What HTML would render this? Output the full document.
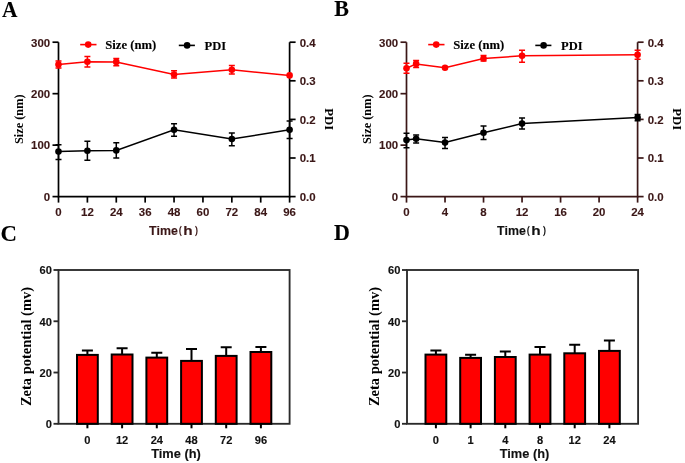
<!DOCTYPE html><html><head><meta charset="utf-8"><style>html,body{margin:0;padding:0;background:#fff;}svg{display:block;will-change:transform}</style></head><body>
<svg width="685" height="463" viewBox="0 0 685 463">
<rect width="685" height="463" fill="#fff"/>
<text transform="translate(1.9 17) scale(0.916 1)" font-family="&quot;Liberation Serif&quot;, serif" font-weight="bold" font-size="23.4" fill="#000" stroke="#000" stroke-width="0.12">A</text>
<text transform="translate(334.3 15.7) scale(0.97 1)" font-family="&quot;Liberation Serif&quot;, serif" font-weight="bold" font-size="22.7" fill="#000" stroke="#000" stroke-width="0.12">B</text>
<text transform="translate(0.4 240.5) scale(0.95 1)" font-family="&quot;Liberation Serif&quot;, serif" font-weight="bold" font-size="24" fill="#000" stroke="#000" stroke-width="0.12">C</text>
<text transform="translate(333.9 239.6) scale(0.913 1)" font-family="&quot;Liberation Serif&quot;, serif" font-weight="bold" font-size="24.1" fill="#000" stroke="#000" stroke-width="0.12">D</text>
<g stroke="#000" stroke-width="1.7" fill="none">
<path d="M58.5 42.2V196.6H289.6V42.2"/>
<path d="M52.5 196.6H58.5"/>
<path d="M52.5 145.13H58.5"/>
<path d="M52.5 93.67H58.5"/>
<path d="M52.5 42.2H58.5"/>
<path d="M289.6 196.6H295.6"/>
<path d="M289.6 158H295.6"/>
<path d="M289.6 119.4H295.6"/>
<path d="M289.6 80.8H295.6"/>
<path d="M289.6 42.2H295.6"/>
<path d="M58.5 196.6V202.6"/>
<path d="M87.39 196.6V202.6"/>
<path d="M116.28 196.6V202.6"/>
<path d="M145.16 196.6V202.6"/>
<path d="M174.05 196.6V202.6"/>
<path d="M202.94 196.6V202.6"/>
<path d="M231.83 196.6V202.6"/>
<path d="M260.71 196.6V202.6"/>
<path d="M289.6 196.6V202.6"/>
</g>
<text transform="translate(50.2 200.9) scale(1.04 1)" font-family="&quot;Liberation Sans&quot;, sans-serif" font-weight="bold" font-size="11" fill="#3b1717" text-anchor="end" stroke="#3b1717" stroke-width="0.12">0</text>
<text transform="translate(50.2 149.43) scale(1.04 1)" font-family="&quot;Liberation Sans&quot;, sans-serif" font-weight="bold" font-size="11" fill="#3b1717" text-anchor="end" stroke="#3b1717" stroke-width="0.12">100</text>
<text transform="translate(50.2 97.97) scale(1.04 1)" font-family="&quot;Liberation Sans&quot;, sans-serif" font-weight="bold" font-size="11" fill="#3b1717" text-anchor="end" stroke="#3b1717" stroke-width="0.12">200</text>
<text transform="translate(50.2 46.5) scale(1.04 1)" font-family="&quot;Liberation Sans&quot;, sans-serif" font-weight="bold" font-size="11" fill="#3b1717" text-anchor="end" stroke="#3b1717" stroke-width="0.12">300</text>
<text transform="translate(299.7 200.9) scale(1.04 1)" font-family="&quot;Liberation Sans&quot;, sans-serif" font-weight="bold" font-size="11" fill="#3b1717" stroke="#3b1717" stroke-width="0.12">0.0</text>
<text transform="translate(299.7 162.3) scale(1.04 1)" font-family="&quot;Liberation Sans&quot;, sans-serif" font-weight="bold" font-size="11" fill="#3b1717" stroke="#3b1717" stroke-width="0.12">0.1</text>
<text transform="translate(299.7 123.7) scale(1.04 1)" font-family="&quot;Liberation Sans&quot;, sans-serif" font-weight="bold" font-size="11" fill="#3b1717" stroke="#3b1717" stroke-width="0.12">0.2</text>
<text transform="translate(299.7 85.1) scale(1.04 1)" font-family="&quot;Liberation Sans&quot;, sans-serif" font-weight="bold" font-size="11" fill="#3b1717" stroke="#3b1717" stroke-width="0.12">0.3</text>
<text transform="translate(299.7 46.5) scale(1.04 1)" font-family="&quot;Liberation Sans&quot;, sans-serif" font-weight="bold" font-size="11" fill="#3b1717" stroke="#3b1717" stroke-width="0.12">0.4</text>
<text transform="translate(58.5 215.8) scale(1.04 1)" font-family="&quot;Liberation Sans&quot;, sans-serif" font-weight="bold" font-size="11" fill="#3b1717" text-anchor="middle" stroke="#3b1717" stroke-width="0.12">0</text>
<text transform="translate(87.39 215.8) scale(1.04 1)" font-family="&quot;Liberation Sans&quot;, sans-serif" font-weight="bold" font-size="11" fill="#3b1717" text-anchor="middle" stroke="#3b1717" stroke-width="0.12">12</text>
<text transform="translate(116.28 215.8) scale(1.04 1)" font-family="&quot;Liberation Sans&quot;, sans-serif" font-weight="bold" font-size="11" fill="#3b1717" text-anchor="middle" stroke="#3b1717" stroke-width="0.12">24</text>
<text transform="translate(145.16 215.8) scale(1.04 1)" font-family="&quot;Liberation Sans&quot;, sans-serif" font-weight="bold" font-size="11" fill="#3b1717" text-anchor="middle" stroke="#3b1717" stroke-width="0.12">36</text>
<text transform="translate(174.05 215.8) scale(1.04 1)" font-family="&quot;Liberation Sans&quot;, sans-serif" font-weight="bold" font-size="11" fill="#3b1717" text-anchor="middle" stroke="#3b1717" stroke-width="0.12">48</text>
<text transform="translate(202.94 215.8) scale(1.04 1)" font-family="&quot;Liberation Sans&quot;, sans-serif" font-weight="bold" font-size="11" fill="#3b1717" text-anchor="middle" stroke="#3b1717" stroke-width="0.12">60</text>
<text transform="translate(231.83 215.8) scale(1.04 1)" font-family="&quot;Liberation Sans&quot;, sans-serif" font-weight="bold" font-size="11" fill="#3b1717" text-anchor="middle" stroke="#3b1717" stroke-width="0.12">72</text>
<text transform="translate(260.71 215.8) scale(1.04 1)" font-family="&quot;Liberation Sans&quot;, sans-serif" font-weight="bold" font-size="11" fill="#3b1717" text-anchor="middle" stroke="#3b1717" stroke-width="0.12">84</text>
<text transform="translate(289.6 215.8) scale(1.04 1)" font-family="&quot;Liberation Sans&quot;, sans-serif" font-weight="bold" font-size="11" fill="#3b1717" text-anchor="middle" stroke="#3b1717" stroke-width="0.12">96</text>
<text x="149.1" y="234.6" font-family="&quot;Liberation Sans&quot;, sans-serif" font-weight="bold" font-size="12.4" fill="#3b1717" stroke="#3b1717" stroke-width="0.12">Time</text>
<text x="183.3" y="234.6" font-family="&quot;Liberation Sans&quot;, sans-serif" font-weight="bold" font-size="13.4" fill="#3b1717" textLength="9.4" lengthAdjust="spacingAndGlyphs" stroke="#3b1717" stroke-width="0.12">h</text>
<path d="M181.3 226.2C179.3 228.2 179.3 233.6 181.3 235.8M195.5 226.2C197.5 228.2 197.5 233.6 195.5 235.8" stroke="#3b1717" stroke-width="1.2" fill="none"/>
<text transform="translate(23 119.2) rotate(-90)" text-anchor="middle" font-family="&quot;Liberation Serif&quot;, serif" font-weight="bold" font-size="12.3" fill="#000">Size (nm)</text>
<text transform="translate(325.4 119.3) rotate(90)" text-anchor="middle" font-family="&quot;Liberation Serif&quot;, serif" font-weight="bold" font-size="12.8" fill="#000">PDI</text>
<path d="M80.2 44.6H96.5" stroke="#ff0000" stroke-width="1.6"/><circle cx="88.2" cy="44.6" r="3.3" fill="#ff0000"/>
<path d="M178.8 45.4H194.9" stroke="#000" stroke-width="1.6"/><circle cx="187.1" cy="45.4" r="3.3" fill="#000"/>
<text x="105.2" y="48.5" font-family="&quot;Liberation Serif&quot;, serif" font-weight="bold" font-size="12.7" fill="#000" stroke="#000" stroke-width="0.12">Size (nm)</text>
<text transform="translate(204.6 49.6) scale(0.95 1)" font-family="&quot;Liberation Serif&quot;, serif" font-weight="bold" font-size="13.2" fill="#000" stroke="#000" stroke-width="0.12">PDI</text>
<path d="M58.5 151.6 L87.39 150.8 L116.28 150.4 L174.05 129.8 L231.83 139 L289.6 129.8" stroke="#000" stroke-width="1.5" fill="none"/>
<g stroke="#000" stroke-width="1.5">
<path d="M58.5 144.7V159.4M55.5 144.7H61.5M55.5 159.4H61.5"/>
<path d="M87.39 141.3V160.3M84.39 141.3H90.39M84.39 160.3H90.39"/>
<path d="M116.28 142.7V158M113.28 142.7H119.28M113.28 158H119.28"/>
<path d="M174.05 123.7V136.2M171.05 123.7H177.05M171.05 136.2H177.05"/>
<path d="M231.83 132.9V145.8M228.83 132.9H234.83M228.83 145.8H234.83"/>
<path d="M289.6 121V138.6M286.6 121H292.6M286.6 138.6H292.6"/>
</g>
<g fill="#000">
<circle cx="58.5" cy="151.6" r="3.3"/>
<circle cx="87.39" cy="150.8" r="3.3"/>
<circle cx="116.28" cy="150.4" r="3.3"/>
<circle cx="174.05" cy="129.8" r="3.3"/>
<circle cx="231.83" cy="139" r="3.3"/>
<circle cx="289.6" cy="129.8" r="3.3"/>
</g>
<path d="M58.5 64.6 L87.39 61.7 L116.28 61.9 L174.05 74.6 L231.83 69.8 L289.6 75.4" stroke="#ff0000" stroke-width="1.5" fill="none"/>
<g stroke="#ff0000" stroke-width="1.5">
<path d="M58.5 61.1V68.1M55.5 61.1H61.5M55.5 68.1H61.5"/>
<path d="M87.39 56.4V66.9M84.39 56.4H90.39M84.39 66.9H90.39"/>
<path d="M116.28 58.4V65.7M113.28 58.4H119.28M113.28 65.7H119.28"/>
<path d="M174.05 70.7V78.1M171.05 70.7H177.05M171.05 78.1H177.05"/>
<path d="M231.83 65.6V74M228.83 65.6H234.83M228.83 74H234.83"/>
</g>
<g fill="#ff0000">
<circle cx="58.5" cy="64.6" r="3.3"/>
<circle cx="87.39" cy="61.7" r="3.3"/>
<circle cx="116.28" cy="61.9" r="3.3"/>
<circle cx="174.05" cy="74.6" r="3.3"/>
<circle cx="231.83" cy="69.8" r="3.3"/>
<circle cx="289.6" cy="75.4" r="3.3"/>
</g>
<g stroke="#3b1717" stroke-width="1.7" fill="none">
<path d="M406.5 42.2V196.6H637.6V42.2"/>
<path d="M400.5 196.6H406.5"/>
<path d="M400.5 145.13H406.5"/>
<path d="M400.5 93.67H406.5"/>
<path d="M400.5 42.2H406.5"/>
<path d="M637.6 196.6H643.6"/>
<path d="M637.6 158H643.6"/>
<path d="M637.6 119.4H643.6"/>
<path d="M637.6 80.8H643.6"/>
<path d="M637.6 42.2H643.6"/>
<path d="M406.5 196.6V202.6"/>
<path d="M445.02 196.6V202.6"/>
<path d="M483.53 196.6V202.6"/>
<path d="M522.05 196.6V202.6"/>
<path d="M560.57 196.6V202.6"/>
<path d="M599.08 196.6V202.6"/>
<path d="M637.6 196.6V202.6"/>
</g>
<text transform="translate(398.2 200.9) scale(1.04 1)" font-family="&quot;Liberation Sans&quot;, sans-serif" font-weight="bold" font-size="11" fill="#3b1717" text-anchor="end" stroke="#3b1717" stroke-width="0.12">0</text>
<text transform="translate(398.2 149.43) scale(1.04 1)" font-family="&quot;Liberation Sans&quot;, sans-serif" font-weight="bold" font-size="11" fill="#3b1717" text-anchor="end" stroke="#3b1717" stroke-width="0.12">100</text>
<text transform="translate(398.2 97.97) scale(1.04 1)" font-family="&quot;Liberation Sans&quot;, sans-serif" font-weight="bold" font-size="11" fill="#3b1717" text-anchor="end" stroke="#3b1717" stroke-width="0.12">200</text>
<text transform="translate(398.2 46.5) scale(1.04 1)" font-family="&quot;Liberation Sans&quot;, sans-serif" font-weight="bold" font-size="11" fill="#3b1717" text-anchor="end" stroke="#3b1717" stroke-width="0.12">300</text>
<text transform="translate(647.7 200.9) scale(1.04 1)" font-family="&quot;Liberation Sans&quot;, sans-serif" font-weight="bold" font-size="11" fill="#3b1717" stroke="#3b1717" stroke-width="0.12">0.0</text>
<text transform="translate(647.7 162.3) scale(1.04 1)" font-family="&quot;Liberation Sans&quot;, sans-serif" font-weight="bold" font-size="11" fill="#3b1717" stroke="#3b1717" stroke-width="0.12">0.1</text>
<text transform="translate(647.7 123.7) scale(1.04 1)" font-family="&quot;Liberation Sans&quot;, sans-serif" font-weight="bold" font-size="11" fill="#3b1717" stroke="#3b1717" stroke-width="0.12">0.2</text>
<text transform="translate(647.7 85.1) scale(1.04 1)" font-family="&quot;Liberation Sans&quot;, sans-serif" font-weight="bold" font-size="11" fill="#3b1717" stroke="#3b1717" stroke-width="0.12">0.3</text>
<text transform="translate(647.7 46.5) scale(1.04 1)" font-family="&quot;Liberation Sans&quot;, sans-serif" font-weight="bold" font-size="11" fill="#3b1717" stroke="#3b1717" stroke-width="0.12">0.4</text>
<text transform="translate(406.5 215.8) scale(1.04 1)" font-family="&quot;Liberation Sans&quot;, sans-serif" font-weight="bold" font-size="11" fill="#3b1717" text-anchor="middle" stroke="#3b1717" stroke-width="0.12">0</text>
<text transform="translate(445.02 215.8) scale(1.04 1)" font-family="&quot;Liberation Sans&quot;, sans-serif" font-weight="bold" font-size="11" fill="#3b1717" text-anchor="middle" stroke="#3b1717" stroke-width="0.12">4</text>
<text transform="translate(483.53 215.8) scale(1.04 1)" font-family="&quot;Liberation Sans&quot;, sans-serif" font-weight="bold" font-size="11" fill="#3b1717" text-anchor="middle" stroke="#3b1717" stroke-width="0.12">8</text>
<text transform="translate(522.05 215.8) scale(1.04 1)" font-family="&quot;Liberation Sans&quot;, sans-serif" font-weight="bold" font-size="11" fill="#3b1717" text-anchor="middle" stroke="#3b1717" stroke-width="0.12">12</text>
<text transform="translate(560.57 215.8) scale(1.04 1)" font-family="&quot;Liberation Sans&quot;, sans-serif" font-weight="bold" font-size="11" fill="#3b1717" text-anchor="middle" stroke="#3b1717" stroke-width="0.12">16</text>
<text transform="translate(599.08 215.8) scale(1.04 1)" font-family="&quot;Liberation Sans&quot;, sans-serif" font-weight="bold" font-size="11" fill="#3b1717" text-anchor="middle" stroke="#3b1717" stroke-width="0.12">20</text>
<text transform="translate(637.6 215.8) scale(1.04 1)" font-family="&quot;Liberation Sans&quot;, sans-serif" font-weight="bold" font-size="11" fill="#3b1717" text-anchor="middle" stroke="#3b1717" stroke-width="0.12">24</text>
<text x="497.1" y="234.6" font-family="&quot;Liberation Sans&quot;, sans-serif" font-weight="bold" font-size="12.4" fill="#111" stroke="#111" stroke-width="0.12">Time</text>
<text x="531.3" y="234.6" font-family="&quot;Liberation Sans&quot;, sans-serif" font-weight="bold" font-size="13.4" fill="#111" textLength="9.4" lengthAdjust="spacingAndGlyphs" stroke="#111" stroke-width="0.12">h</text>
<path d="M529.3 226.2C527.3 228.2 527.3 233.6 529.3 235.8M543.5 226.2C545.5 228.2 545.5 233.6 543.5 235.8" stroke="#111" stroke-width="1.2" fill="none"/>
<text transform="translate(371 119.2) rotate(-90)" text-anchor="middle" font-family="&quot;Liberation Serif&quot;, serif" font-weight="bold" font-size="12.3" fill="#000">Size (nm)</text>
<text transform="translate(673.4 119.3) rotate(90)" text-anchor="middle" font-family="&quot;Liberation Serif&quot;, serif" font-weight="bold" font-size="12.8" fill="#000">PDI</text>
<path d="M428.2 44.6H444.5" stroke="#ff0000" stroke-width="1.6"/><circle cx="436.2" cy="44.6" r="3.3" fill="#ff0000"/>
<path d="M535.3 45.4H551.4" stroke="#000" stroke-width="1.6"/><circle cx="543.6" cy="45.4" r="3.3" fill="#000"/>
<text x="453.2" y="48.5" font-family="&quot;Liberation Serif&quot;, serif" font-weight="bold" font-size="12.7" fill="#000" stroke="#000" stroke-width="0.12">Size (nm)</text>
<text transform="translate(561.1 49.6) scale(0.95 1)" font-family="&quot;Liberation Serif&quot;, serif" font-weight="bold" font-size="13.2" fill="#000" stroke="#000" stroke-width="0.12">PDI</text>
<path d="M406.5 140.1 L416.13 138.7 L445.02 142.6 L483.53 132.8 L522.05 123.6 L637.6 117.5" stroke="#000" stroke-width="1.5" fill="none"/>
<g stroke="#000" stroke-width="1.5">
<path d="M406.5 133.2V147.7M403.5 133.2H409.5M403.5 147.7H409.5"/>
<path d="M416.13 135V143.1M413.13 135H419.13M413.13 143.1H419.13"/>
<path d="M445.02 137.5V148.5M442.02 137.5H448.02M442.02 148.5H448.02"/>
<path d="M483.53 125.9V139.4M480.53 125.9H486.53M480.53 139.4H486.53"/>
<path d="M522.05 118.1V129.1M519.05 118.1H525.05M519.05 129.1H525.05"/>
<path d="M637.6 114.6V120.8M634.6 114.6H640.6M634.6 120.8H640.6"/>
</g>
<g fill="#000">
<circle cx="406.5" cy="140.1" r="3.3"/>
<circle cx="416.13" cy="138.7" r="3.3"/>
<circle cx="445.02" cy="142.6" r="3.3"/>
<circle cx="483.53" cy="132.8" r="3.3"/>
<circle cx="522.05" cy="123.6" r="3.3"/>
<circle cx="637.6" cy="117.5" r="3.3"/>
</g>
<path d="M406.5 68.2 L416.13 63.9 L445.02 67.8 L483.53 58.5 L522.05 55.8 L637.6 54.7" stroke="#ff0000" stroke-width="1.5" fill="none"/>
<g stroke="#ff0000" stroke-width="1.5">
<path d="M406.5 63.2V73.2M403.5 63.2H409.5M403.5 73.2H409.5"/>
<path d="M416.13 60.6V67.4M413.13 60.6H419.13M413.13 67.4H419.13"/>
<path d="M483.53 55.5V61M480.53 55.5H486.53M480.53 61H486.53"/>
<path d="M522.05 50.3V62.2M519.05 50.3H525.05M519.05 62.2H525.05"/>
<path d="M637.6 50.3V59.3M634.6 50.3H640.6M634.6 59.3H640.6"/>
</g>
<g fill="#ff0000">
<circle cx="406.5" cy="68.2" r="3.3"/>
<circle cx="416.13" cy="63.9" r="3.3"/>
<circle cx="445.02" cy="67.8" r="3.3"/>
<circle cx="483.53" cy="58.5" r="3.3"/>
<circle cx="522.05" cy="55.8" r="3.3"/>
<circle cx="637.6" cy="54.7" r="3.3"/>
</g>
<g stroke="#2a2a2a" stroke-width="1.85" fill="none">
<rect x="58.5" y="270" width="231.1" height="153.8"/>
<path d="M53.5 423.8H58.5"/>
<path d="M53.5 372.53H58.5"/>
<path d="M53.5 321.27H58.5"/>
<path d="M53.5 270H58.5"/>
</g>
<text transform="translate(51.9 428.1) scale(1.06 1)" font-family="&quot;Liberation Sans&quot;, sans-serif" font-weight="bold" font-size="10.5" fill="#111" text-anchor="end" stroke="#111" stroke-width="0.12">0</text>
<text transform="translate(51.9 376.83) scale(1.06 1)" font-family="&quot;Liberation Sans&quot;, sans-serif" font-weight="bold" font-size="10.5" fill="#111" text-anchor="end" stroke="#111" stroke-width="0.12">20</text>
<text transform="translate(51.9 325.57) scale(1.06 1)" font-family="&quot;Liberation Sans&quot;, sans-serif" font-weight="bold" font-size="10.5" fill="#111" text-anchor="end" stroke="#111" stroke-width="0.12">40</text>
<text transform="translate(51.9 274.3) scale(1.06 1)" font-family="&quot;Liberation Sans&quot;, sans-serif" font-weight="bold" font-size="10.5" fill="#111" text-anchor="end" stroke="#111" stroke-width="0.12">60</text>
<g stroke="#000" stroke-width="2">
<path d="M87.4 354.9V350.4M81.9 350.4H92.9" fill="none"/>
<rect x="77" y="354.9" width="20.8" height="68.9" fill="#ff0000"/>
<path d="M87.4 423.8V428.3" fill="none"/>
<path d="M122.1 354.5V348.2M116.6 348.2H127.6" fill="none"/>
<rect x="111.7" y="354.5" width="20.8" height="69.3" fill="#ff0000"/>
<path d="M122.1 423.8V428.3" fill="none"/>
<path d="M156.8 357.6V352.8M151.3 352.8H162.3" fill="none"/>
<rect x="146.4" y="357.6" width="20.8" height="66.2" fill="#ff0000"/>
<path d="M156.8 423.8V428.3" fill="none"/>
<path d="M191.5 360.9V349M186 349H197" fill="none"/>
<rect x="181.1" y="360.9" width="20.8" height="62.9" fill="#ff0000"/>
<path d="M191.5 423.8V428.3" fill="none"/>
<path d="M226.2 355.9V347.2M220.7 347.2H231.7" fill="none"/>
<rect x="215.8" y="355.9" width="20.8" height="67.9" fill="#ff0000"/>
<path d="M226.2 423.8V428.3" fill="none"/>
<path d="M260.9 352V347.1M255.4 347.1H266.4" fill="none"/>
<rect x="250.5" y="352" width="20.8" height="71.8" fill="#ff0000"/>
<path d="M260.9 423.8V428.3" fill="none"/>
</g>
<text transform="translate(87.4 443.8) scale(1.06 1)" font-family="&quot;Liberation Sans&quot;, sans-serif" font-weight="bold" font-size="10.5" fill="#111" text-anchor="middle" stroke="#111" stroke-width="0.12">0</text>
<text transform="translate(122.1 443.8) scale(1.06 1)" font-family="&quot;Liberation Sans&quot;, sans-serif" font-weight="bold" font-size="10.5" fill="#111" text-anchor="middle" stroke="#111" stroke-width="0.12">12</text>
<text transform="translate(156.8 443.8) scale(1.06 1)" font-family="&quot;Liberation Sans&quot;, sans-serif" font-weight="bold" font-size="10.5" fill="#111" text-anchor="middle" stroke="#111" stroke-width="0.12">24</text>
<text transform="translate(191.5 443.8) scale(1.06 1)" font-family="&quot;Liberation Sans&quot;, sans-serif" font-weight="bold" font-size="10.5" fill="#111" text-anchor="middle" stroke="#111" stroke-width="0.12">48</text>
<text transform="translate(226.2 443.8) scale(1.06 1)" font-family="&quot;Liberation Sans&quot;, sans-serif" font-weight="bold" font-size="10.5" fill="#111" text-anchor="middle" stroke="#111" stroke-width="0.12">72</text>
<text transform="translate(260.9 443.8) scale(1.06 1)" font-family="&quot;Liberation Sans&quot;, sans-serif" font-weight="bold" font-size="10.5" fill="#111" text-anchor="middle" stroke="#111" stroke-width="0.12">96</text>
<text transform="translate(176 457.8) scale(1.07 1)" font-family="&quot;Liberation Sans&quot;, sans-serif" font-weight="bold" font-size="12" fill="#111" text-anchor="middle" stroke="#111" stroke-width="0.12">Time (h)</text>
<text transform="translate(30.6 346.5) rotate(-90)" text-anchor="middle" font-family="&quot;Liberation Serif&quot;, serif" font-weight="bold" font-size="14.5" fill="#000">Zeta potential (mv)</text>
<g stroke="#2a2a2a" stroke-width="1.85" fill="none">
<rect x="407" y="270" width="231.1" height="153.8"/>
<path d="M402 423.8H407"/>
<path d="M402 372.53H407"/>
<path d="M402 321.27H407"/>
<path d="M402 270H407"/>
</g>
<text transform="translate(400.4 428.1) scale(1.06 1)" font-family="&quot;Liberation Sans&quot;, sans-serif" font-weight="bold" font-size="10.5" fill="#111" text-anchor="end" stroke="#111" stroke-width="0.12">0</text>
<text transform="translate(400.4 376.83) scale(1.06 1)" font-family="&quot;Liberation Sans&quot;, sans-serif" font-weight="bold" font-size="10.5" fill="#111" text-anchor="end" stroke="#111" stroke-width="0.12">20</text>
<text transform="translate(400.4 325.57) scale(1.06 1)" font-family="&quot;Liberation Sans&quot;, sans-serif" font-weight="bold" font-size="10.5" fill="#111" text-anchor="end" stroke="#111" stroke-width="0.12">40</text>
<text transform="translate(400.4 274.3) scale(1.06 1)" font-family="&quot;Liberation Sans&quot;, sans-serif" font-weight="bold" font-size="10.5" fill="#111" text-anchor="end" stroke="#111" stroke-width="0.12">60</text>
<g stroke="#000" stroke-width="2">
<path d="M435.9 354.6V350.6M430.4 350.6H441.4" fill="none"/>
<rect x="425.5" y="354.6" width="20.8" height="69.2" fill="#ff0000"/>
<path d="M435.9 423.8V428.3" fill="none"/>
<path d="M470.6 357.9V354.7M465.1 354.7H476.1" fill="none"/>
<rect x="460.2" y="357.9" width="20.8" height="65.9" fill="#ff0000"/>
<path d="M470.6 423.8V428.3" fill="none"/>
<path d="M505.3 357V351.5M499.8 351.5H510.8" fill="none"/>
<rect x="494.9" y="357" width="20.8" height="66.8" fill="#ff0000"/>
<path d="M505.3 423.8V428.3" fill="none"/>
<path d="M540 354.6V347.1M534.5 347.1H545.5" fill="none"/>
<rect x="529.6" y="354.6" width="20.8" height="69.2" fill="#ff0000"/>
<path d="M540 423.8V428.3" fill="none"/>
<path d="M574.7 353.3V344.7M569.2 344.7H580.2" fill="none"/>
<rect x="564.3" y="353.3" width="20.8" height="70.5" fill="#ff0000"/>
<path d="M574.7 423.8V428.3" fill="none"/>
<path d="M609.4 350.9V340.6M603.9 340.6H614.9" fill="none"/>
<rect x="599" y="350.9" width="20.8" height="72.9" fill="#ff0000"/>
<path d="M609.4 423.8V428.3" fill="none"/>
</g>
<text transform="translate(435.9 443.8) scale(1.06 1)" font-family="&quot;Liberation Sans&quot;, sans-serif" font-weight="bold" font-size="10.5" fill="#111" text-anchor="middle" stroke="#111" stroke-width="0.12">0</text>
<text transform="translate(470.6 443.8) scale(1.06 1)" font-family="&quot;Liberation Sans&quot;, sans-serif" font-weight="bold" font-size="10.5" fill="#111" text-anchor="middle" stroke="#111" stroke-width="0.12">1</text>
<text transform="translate(505.3 443.8) scale(1.06 1)" font-family="&quot;Liberation Sans&quot;, sans-serif" font-weight="bold" font-size="10.5" fill="#111" text-anchor="middle" stroke="#111" stroke-width="0.12">4</text>
<text transform="translate(540 443.8) scale(1.06 1)" font-family="&quot;Liberation Sans&quot;, sans-serif" font-weight="bold" font-size="10.5" fill="#111" text-anchor="middle" stroke="#111" stroke-width="0.12">8</text>
<text transform="translate(574.7 443.8) scale(1.06 1)" font-family="&quot;Liberation Sans&quot;, sans-serif" font-weight="bold" font-size="10.5" fill="#111" text-anchor="middle" stroke="#111" stroke-width="0.12">12</text>
<text transform="translate(609.4 443.8) scale(1.06 1)" font-family="&quot;Liberation Sans&quot;, sans-serif" font-weight="bold" font-size="10.5" fill="#111" text-anchor="middle" stroke="#111" stroke-width="0.12">24</text>
<text transform="translate(524.5 457.8) scale(1.07 1)" font-family="&quot;Liberation Sans&quot;, sans-serif" font-weight="bold" font-size="12" fill="#111" text-anchor="middle" stroke="#111" stroke-width="0.12">Time (h)</text>
<text transform="translate(379.1 346.5) rotate(-90)" text-anchor="middle" font-family="&quot;Liberation Serif&quot;, serif" font-weight="bold" font-size="14.5" fill="#000">Zeta potential (mv)</text>
</svg></body></html>
